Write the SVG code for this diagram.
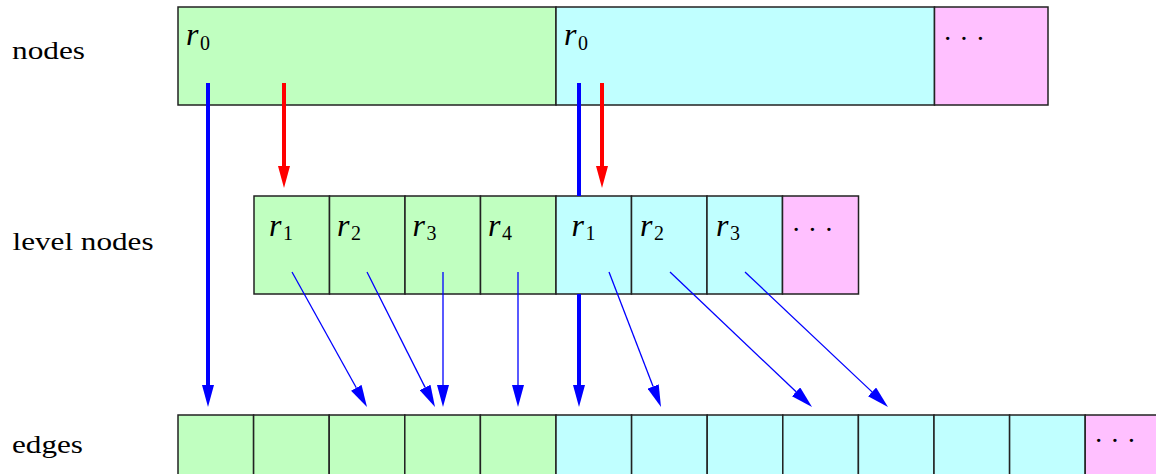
<svg xmlns="http://www.w3.org/2000/svg" width="1156" height="474" viewBox="0 0 1156 474">
<style>
.g{fill:#C0FFC0;stroke:#222;stroke-width:1.5}
.c{fill:#C0FFFF;stroke:#222;stroke-width:1.5}
.p{fill:#FFC0FF;stroke:#222;stroke-width:1.5}
.lbl{font-family:"Liberation Serif",serif;font-size:26px;fill:#000}
.r{font-family:"Liberation Serif",serif;font-style:italic;font-size:32px;fill:#000}
.s{font-family:"Liberation Serif",serif;font-style:normal;font-size:20px}
.dots{font-family:"Liberation Serif",serif;font-size:28px;fill:#000}
.thick{stroke-width:4;fill:none}
.thin{stroke:#00f;stroke-width:1.3;fill:none;marker-end:url(#hb)}
.blue{stroke:#00f;marker-end:url(#hb)}
.red{stroke:#f00;marker-end:url(#hr)}
</style>
<defs>
<marker id="hb" markerUnits="userSpaceOnUse" orient="auto" markerWidth="22" markerHeight="12" refX="0" refY="6"><path d="M0,0 L22,6 L0,12 z" fill="#00f"/></marker>
<marker id="hr" markerUnits="userSpaceOnUse" orient="auto" markerWidth="22" markerHeight="12" refX="0" refY="6"><path d="M0,0 L22,6 L0,12 z" fill="#f00"/></marker>
</defs>
<rect width="1156" height="474" fill="#fff"/>
<g id="row-labels">
<text class="lbl" x="12" y="59" textLength="73" lengthAdjust="spacingAndGlyphs">nodes</text>
<text class="lbl" x="12.5" y="250" textLength="141" lengthAdjust="spacingAndGlyphs">level nodes</text>
<text class="lbl" x="12" y="453" textLength="71" lengthAdjust="spacingAndGlyphs">edges</text>
</g>
<g id="nodes">
<g id="node-r0-a"><rect class="g" x="178" y="7" width="378" height="98"/><text class="r" x="186" y="44.5">r<tspan class="s" x="200" y="50">0</tspan></text></g>
<g id="node-r0-b"><rect class="c" x="556" y="7" width="378.5" height="98"/><text class="r" x="564" y="44.5">r<tspan class="s" x="578" y="50">0</tspan></text></g>
<g id="node-more"><rect class="p" x="934.5" y="7" width="113.5" height="98"/><text class="dots" x="943" y="48">· · ·</text></g>
</g>
<g id="level-nodes">
<g id="lv-g1"><rect class="g" x="254" y="196" width="75.5" height="98"/><text class="r" x="269" y="236">r<tspan class="s" x="283" y="240">1</tspan></text></g>
<g id="lv-g2"><rect class="g" x="329.5" y="196" width="75.5" height="98"/><text class="r" x="337" y="236">r<tspan class="s" x="351" y="240">2</tspan></text></g>
<g id="lv-g3"><rect class="g" x="405" y="196" width="75.5" height="98"/><text class="r" x="412.5" y="236">r<tspan class="s" x="426.5" y="240">3</tspan></text></g>
<g id="lv-g4"><rect class="g" x="480.5" y="196" width="75.5" height="98"/><text class="r" x="488" y="236">r<tspan class="s" x="502" y="240">4</tspan></text></g>
<g id="lv-c1"><rect class="c" x="556" y="196" width="75.5" height="98"/><text class="r" x="571.5" y="236">r<tspan class="s" x="585.5" y="240">1</tspan></text></g>
<g id="lv-c2"><rect class="c" x="631.5" y="196" width="75.5" height="98"/><text class="r" x="640" y="236">r<tspan class="s" x="654" y="240">2</tspan></text></g>
<g id="lv-c3"><rect class="c" x="707" y="196" width="75.5" height="98"/><text class="r" x="716" y="236">r<tspan class="s" x="730" y="240">3</tspan></text></g>
<g id="lv-more"><rect class="p" x="782.5" y="196" width="76" height="98"/><text class="dots" x="791.5" y="238.5">· · ·</text></g>
</g>
<g id="edges">
<g id="e1"><rect class="g" x="178" y="415" width="75.6" height="70"/></g>
<g id="e2"><rect class="g" x="253.6" y="415" width="75.6" height="70"/></g>
<g id="e3"><rect class="g" x="329.2" y="415" width="75.6" height="70"/></g>
<g id="e4"><rect class="g" x="404.8" y="415" width="75.6" height="70"/></g>
<g id="e5"><rect class="g" x="480.4" y="415" width="75.6" height="70"/></g>
<g id="e6"><rect class="c" x="556" y="415" width="75.6" height="70"/></g>
<g id="e7"><rect class="c" x="631.6" y="415" width="75.6" height="70"/></g>
<g id="e8"><rect class="c" x="707.2" y="415" width="75.6" height="70"/></g>
<g id="e9"><rect class="c" x="782.8" y="415" width="75.6" height="70"/></g>
<g id="e10"><rect class="c" x="858.4" y="415" width="75.6" height="70"/></g>
<g id="e11"><rect class="c" x="934" y="415" width="75.6" height="70"/></g>
<g id="e12"><rect class="c" x="1009.6" y="415" width="75.6" height="70"/></g>
<g id="e-more"><rect class="p" x="1085.2" y="415" width="80" height="70"/><text class="dots" x="1094" y="450">· · ·</text></g>
</g>
<g id="connectors">
<line class="thick blue" x1="208" y1="83" x2="208" y2="385"/>
<path class="thick blue" d="M579,83 V196 M579,294 V385"/>
<line class="thick red" x1="284" y1="83" x2="284" y2="166"/>
<line class="thick red" x1="602" y1="83" x2="602" y2="166"/>
<line class="thin" x1="292" y1="272" x2="356.3" y2="387.8"/>
<line class="thin" x1="367" y1="272" x2="425.1" y2="387.4"/>
<line class="thin" x1="443" y1="272" x2="443" y2="385"/>
<line class="thin" x1="518" y1="272" x2="518" y2="385"/>
<line class="thin" x1="609" y1="272" x2="653.1" y2="386.5"/>
<line class="thin" x1="670" y1="272" x2="796.1" y2="391.8"/>
<line class="thin" x1="745" y1="272" x2="872" y2="391.9"/>
</g>
</svg>
